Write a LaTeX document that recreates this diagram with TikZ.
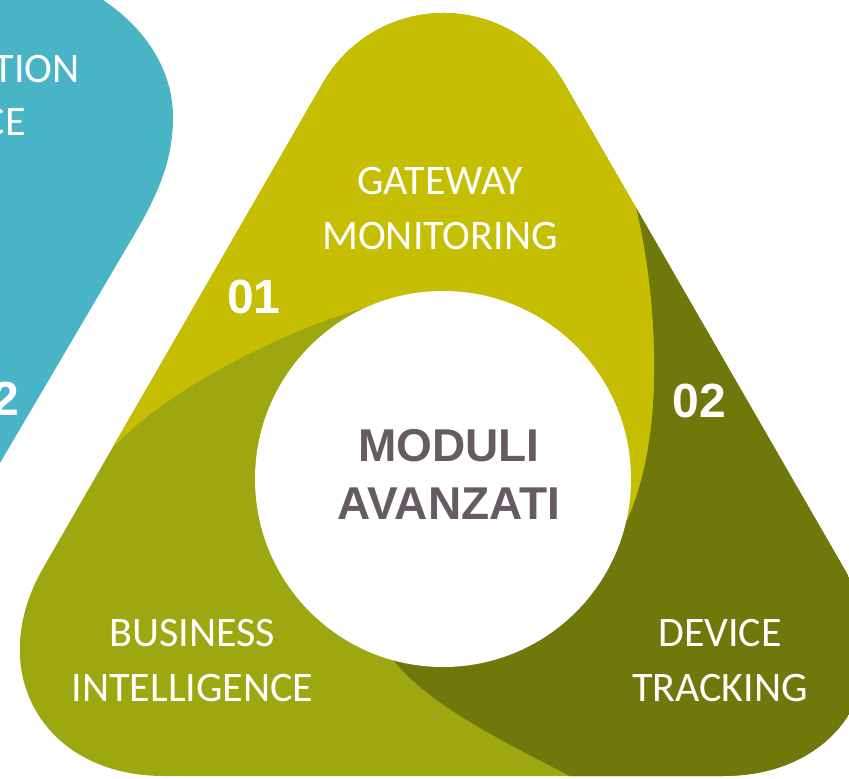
\documentclass[tikz,border=0pt]{standalone}
\usepackage{fontspec}
\setmainfont{Carlito}
\newfontfamily\numfont{Liberation Sans}
\definecolor{goldseg}{RGB}{197,190,2}
\definecolor{oliveseg}{RGB}{157,168,17}
\definecolor{darkseg}{RGB}{111,120,11}
\definecolor{cyanseg}{RGB}{74,180,199}
\definecolor{coretext}{RGB}{102,90,99}
\begin{document}
\begin{tikzpicture}[x=1pt,y=-1pt,
  lab/.style={text=white, font=\fontsize{42}{55}\selectfont, align=center, inner sep=0pt},
  num/.style={text=white, font=\numfont\bfseries\fontsize{48}{50}\selectfont, inner sep=0pt, anchor=base},
  coretxt/.style={text=coretext, font=\numfont\bfseries\fontsize{46}{58}\selectfont, align=center, inner sep=0pt}]
\useasboundingbox (0,0) rectangle (849,779);
\clip (0,0) rectangle (849,779);
\def\tripath{(163.8,776) -- (723.2,776) .. controls (843.6,776) and (903.8,671.7) .. (843.6,567.5)
  -- (563.9,82.5) arc[start angle=-30,end angle=-150,radius=139]
  -- (43.4,567.5) .. controls (-16.8,671.7) and (43.4,776) .. (163.8,776) -- cycle}
% cyan neighbour shape (cut off)
\fill[cyanseg] (-50,548) -- (137,230) .. controls (165,182) and (173,150) .. (173,117)
  .. controls (173,70) and (145,25) .. (95,-5) -- (-50,-60) -- cycle;
% main rounded triangle
\begin{scope}
  \clip \tripath;
  \fill[oliveseg] \tripath;
  \fill[darkseg] (601,56) -- (637,212) .. controls (655,290) and (668,430) .. (627,520)
    -- (443,479) -- (394,661) .. controls (430,705) and (500,740) .. (570,776)
    -- (710,848) -- (1000,900) -- (1000,0) -- cycle;
  \fill[goldseg] (601,56) -- (637,212) .. controls (655,290) and (668,430) .. (627,520)
    -- (443,479) -- (365,308) .. controls (300,325) and (180,380) .. (117,443)
    -- (-9,569) -- (-100,569) -- (-100,-100) -- (601,-100) -- cycle;
\end{scope}
\node[circle, fill=white, minimum size=376pt, inner sep=0pt] (core) at (443,479) {};
\node[coretxt] (coretitle) at (449,474) {MODULI\\AVANZATI};
\node[lab] (gateway) at (440,209) {GATEWAY\\MONITORING};
\node[lab] (business) at (192.5,661) {BUSINESS\\INTELLIGENCE};
\node[lab] (device) at (720,661) {DEVICE\\TRACKING};
\node[num] (n01) at (254,313) {01};
\node[num] (n02) at (699,417) {02};
\node[num, anchor=base east] (n02c) at (19,415) {02};
\node[lab, anchor=base east] (cyanA) at (80,82) {TION};
\node[lab, anchor=base east] (cyanB) at (26,135) {CE};
\end{tikzpicture}
\end{document}
